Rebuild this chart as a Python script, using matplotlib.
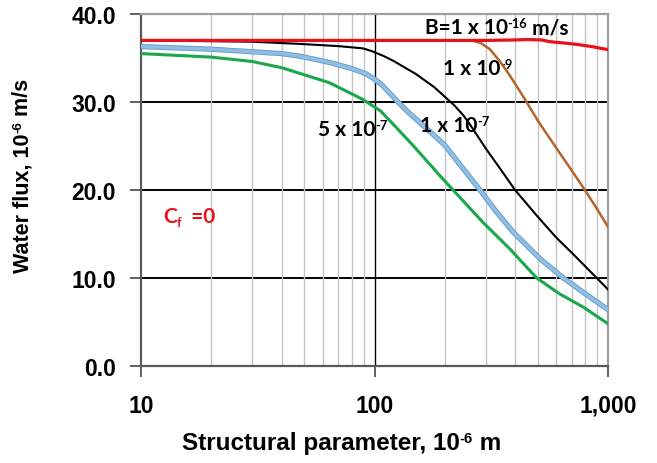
import matplotlib
matplotlib.use("Agg")
import matplotlib.pyplot as plt
from matplotlib.ticker import FixedLocator, FixedFormatter, FuncFormatter, NullFormatter

# ---- data ----
x_red = [10, 50, 150, 300, 400, 450, 520, 565, 650, 735, 850, 1000]
y_red = [37.0, 37.0, 37.0, 37.0, 37.05, 37.1, 37.05, 36.85, 36.7, 36.55, 36.3, 35.95]

x_brown = [10, 100, 200, 261, 285, 312, 345, 380, 434, 500, 603, 700, 796, 900, 1000]
y_brown = [37.0, 37.0, 37.0, 37.0, 36.7, 36.0, 34.6, 33.0, 30.6, 27.9, 24.7, 22.2, 20.0, 17.8, 15.8]

x_black = [10, 30, 48, 70, 89, 97, 110, 120, 150, 180, 200, 220, 240, 260, 280, 300, 350,
           400, 495, 600, 710, 895, 1000]
y_black = [37.0, 36.85, 36.6, 36.35, 36.1, 35.8, 35.2, 34.7, 33.2, 31.7, 30.6, 29.6, 28.5,
           27.2, 25.9, 24.7, 22.2, 20.0, 17.1, 14.6, 12.7, 10.0, 8.7]

x_blue = [10, 20, 40, 48, 64, 80, 92, 100, 108, 124, 140, 162, 200, 240, 283, 333, 393, 511,
          644, 800, 1000]
y_blue = [36.3, 36.0, 35.5, 35.2, 34.5, 33.8, 33.2, 32.6, 31.9, 30.2, 28.8, 27.3, 25.1, 22.4,
          20.0, 17.5, 15.2, 12.2, 10.0, 8.2, 6.4]

x_green = [10, 20, 30, 40, 64, 89, 106, 125, 147, 191, 217, 292, 380, 495, 620, 783, 1000]
y_green = [35.5, 35.1, 34.6, 33.9, 32.2, 30.3, 29.0, 27.0, 25.0, 21.6, 20.0, 16.3, 13.3,
           10.0, 8.2, 6.7, 4.8]

x_ticks = [10, 100, 1000]
x_ticklabels = ["10", "100", "1,000"]
y_ticks = [0, 10, 20, 30, 40]

# curve labels: (x, y, pieces)  pieces -> (text, "n"/"sup"/"sub")
curve_labels = [
    (164, 37.8, [("B=1 x 10", "n"), ("-16", "sup"), (" m/s", "n")], "black"),
    (196, 33.2, [("1 x 10", "n"), ("-9", "sup")], "black"),
    (156, 26.7, [("1 x 10", "n"), ("-7", "sup")], "black"),
    (57.4, 26.2, [("5 x 10", "n"), ("-7", "sup")], "black"),
    (12.4, 16.4, [("C", "n"), ("f", "sub"), ("  =0", "n")], "#e8101a"),
]

SANS = ["Liberation Sans", "DejaVu Sans"]
LABEL_FONT = ["Lato", "DejaVu Sans"]


def rich_text(ax, x, y, pieces, size, family, color="black", transform=None, rotation=0):
    """text with super/subscripts, chaining pieces by their bounding boxes"""
    if transform is None:
        transform = ax.transData
    common = dict(fontweight="bold", family=family, color=color, annotation_clip=False)
    base = ax.text(x, y, pieces[0][0], transform=transform, fontsize=size, fontweight="bold",
                   family=family, color=color, rotation=rotation,
                   ha="left", va="baseline" if rotation == 0 else "bottom")
    prev = base
    for txt, kind in pieces[1:]:
        small = size * 0.62
        if rotation == 0:
            if kind == "sup":
                prev = ax.annotate(txt, xy=(1, 1), xycoords=prev, ha="left", va="top",
                                   fontsize=small, **common)
            elif kind == "sub":
                prev = ax.annotate(txt, xy=(1, 0), xycoords=prev, xytext=(0, -2),
                                   textcoords="offset points", ha="left", va="bottom",
                                   fontsize=small, **common)
            else:
                prev = ax.annotate(txt, xy=(1, 0), xycoords=(prev, base), ha="left",
                                   va="bottom", fontsize=size, **common)
        else:
            if kind == "sup":
                prev = ax.annotate(txt, xy=(0, 1), xycoords=prev, ha="left", va="bottom",
                                   fontsize=small, rotation=90, **common)
            else:
                prev = ax.annotate(txt, xy=(0, 1), xycoords=(base, prev), ha="left",
                                   va="bottom", fontsize=size, rotation=90, **common)
    return base


fig = plt.figure(figsize=(6.57, 4.64), dpi=100)
ax = fig.add_axes([141 / 657, 1 - 367 / 464, 467 / 657, 352 / 464])

ax.set_xscale("log")
ax.set_xlim(10, 1000)
ax.set_ylim(0, 40)

# grid
ax.xaxis.set_minor_locator(FixedLocator([k * 10 ** e for e in (1, 2) for k in range(2, 10)]))
ax.xaxis.set_minor_formatter(NullFormatter())
ax.grid(which="minor", axis="x", color="#c4c4c4", lw=1.0)
for yv in (10, 20, 30):
    ax.axhline(yv, color="black", lw=1.4, zorder=1)
ax.axvline(100, color="black", lw=1.0, zorder=1)

# curves
ax.plot(x_green, y_green, color="#1aa84a", lw=2.2, zorder=3)
ax.plot(x_blue, y_blue, color="#6a9ccb", lw=3.8, zorder=3)
ax.plot(x_blue, y_blue, color="#8fc0e3", lw=2.4, zorder=3)
ax.plot(x_black, y_black, color="black", lw=1.5, zorder=3)
ax.plot(x_brown, y_brown, color="#b5652b", lw=1.8, zorder=4)
ax.plot(x_red, y_red, color="#e8101a", lw=2.3, zorder=5)

for lx, ly, pieces, col in curve_labels:
    rich_text(ax, lx, ly, pieces, 15, LABEL_FONT, color=col)

# ticks
ax.xaxis.set_major_locator(FixedLocator(x_ticks))
ax.xaxis.set_major_formatter(FixedFormatter(x_ticklabels))
ax.yaxis.set_major_locator(FixedLocator(y_ticks))
ax.yaxis.set_major_formatter(FuncFormatter(lambda v, p: f"{v:.1f}"))
ax.tick_params(axis="both", which="major", labelsize=16.5, length=8, width=1.3, color="#555555")
ax.tick_params(axis="y", which="major", pad=10)
ax.tick_params(axis="x", which="major", pad=12)
ax.tick_params(axis="x", which="minor", length=0)
for lab in ax.get_xticklabels() + ax.get_yticklabels():
    lab.set_fontweight("bold")
    lab.set_family(SANS)

for s in ("left", "bottom"):
    ax.spines[s].set_color("#5a5a5a")
    ax.spines[s].set_linewidth(1.6)
for s in ("top", "right"):
    ax.spines[s].set_color("#a0a0a0")
    ax.spines[s].set_linewidth(1.6)

# axis titles
rich_text(ax, 182 / 657, 1 - 450 / 464, [("Structural parameter, 10", "n"), ("-6", "sup"), (" m", "n")],
          17.5, SANS, transform=fig.transFigure)
rich_text(ax, 12 / 657, 1 - 273 / 464, [("Water flux, 10", "n"), ("-6", "sup"), (" m/s", "n")],
          15.5, SANS, transform=fig.transFigure, rotation=90)

fig.savefig("out.png", dpi=100)
